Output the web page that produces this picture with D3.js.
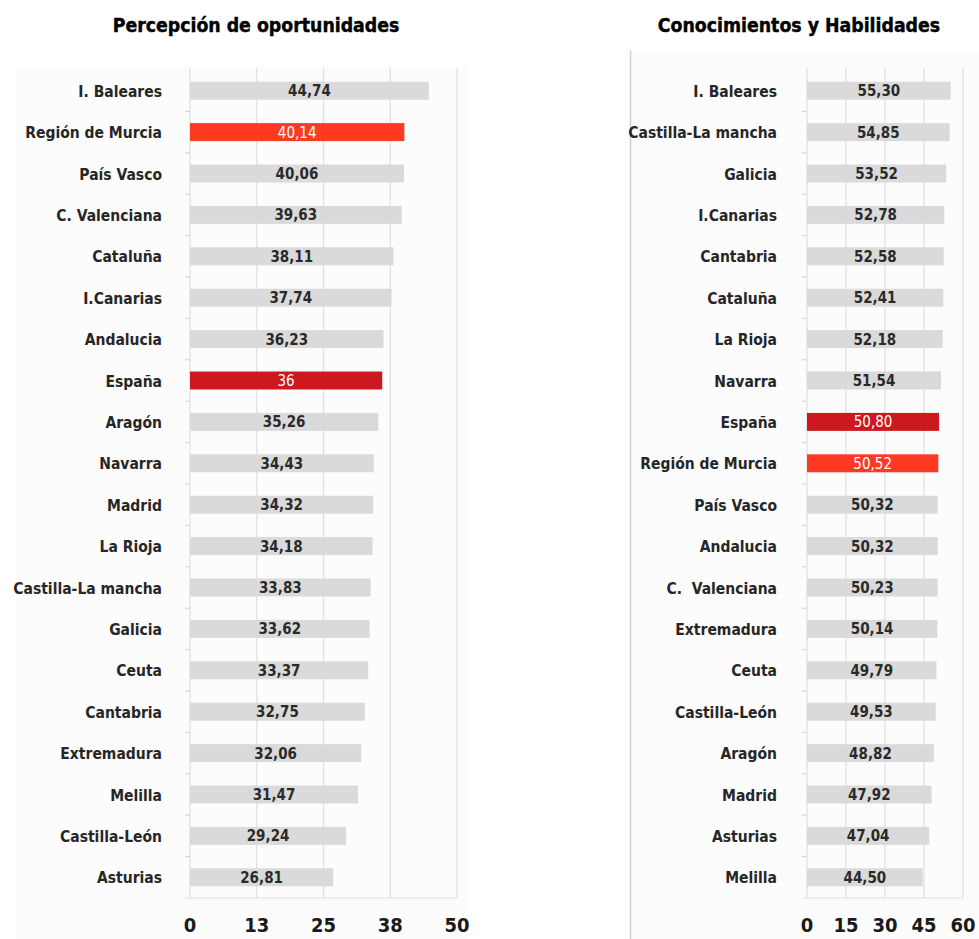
<!DOCTYPE html>
<html><head><meta charset="utf-8">
<script src="https://cdn.jsdelivr.net/npm/d3@7"></script>
<style>body{margin:0;background:#fff}svg{display:block}text{white-space:pre}</style>
</head><body>
<svg id="c" width="979" height="939"></svg>
<script>
const leftTitle = "Percepción de oportunidades";
const leftCategories = ["I. Baleares","Región de Murcia","País Vasco","C. Valenciana","Cataluña","I.Canarias","Andalucia","España","Aragón","Navarra","Madrid","La Rioja","Castilla-La mancha","Galicia","Ceuta","Cantabria","Extremadura","Melilla","Castilla-León","Asturias"];
const leftValues = [44.74,40.14,40.06,39.63,38.11,37.74,36.23,36,35.26,34.43,34.32,34.18,33.83,33.62,33.37,32.75,32.06,31.47,29.24,26.81];
const leftLabels = ["44,74","40,14","40,06","39,63","38,11","37,74","36,23","36","35,26","34,43","34,32","34,18","33,83","33,62","33,37","32,75","32,06","31,47","29,24","26,81"];
const leftTicks = [0,12.5,25,37.5,50];
const leftTickLabels = ["0","13","25","38","50"];

const rightTitle = "Conocimientos y Habilidades";
const rightCategories = ["I. Baleares","Castilla-La mancha","Galicia","I.Canarias","Cantabria","Cataluña","La Rioja","Navarra","España","Región de Murcia","País Vasco","Andalucia","C.  Valenciana","Extremadura","Ceuta","Castilla-León","Aragón","Madrid","Asturias","Melilla"];
const rightValues = [55.30,54.85,53.52,52.78,52.58,52.41,52.18,51.54,50.80,50.52,50.32,50.32,50.23,50.14,49.79,49.53,48.82,47.92,47.04,44.50];
const rightLabels = ["55,30","54,85","53,52","52,78","52,58","52,41","52,18","51,54","50,80","50,52","50,32","50,32","50,23","50,14","49,79","49,53","48,82","47,92","47,04","44,50"];
const rightTicks = [0,15,30,45,60];
const rightTickLabels = ["0","15","30","45","60"];

const colorMurcia = "#ff3a22", colorSpain = "#cc181e", colorBar = "#dadada";
const FONT = "'DejaVu Sans Condensed','DejaVu Sans',sans-serif";

const svg = d3.select("#c");

function panel(o) {
  const g = svg.append("g");
  g.append("rect").attr("x", o.bgX).attr("y", o.bgY).attr("width", o.bgW).attr("height", 939 - o.bgY)
    .attr("fill", "#fcfcfc");
  if (o.border) {
    g.append("line").attr("x1", o.bgX + 0.5).attr("x2", o.bgX + 0.5).attr("y1", o.bgY).attr("y2", 939)
      .attr("stroke", "#cfcfcf").attr("stroke-width", 1.5);
  }
  g.append("text").attr("x", o.titleX).attr("y", 32).attr("text-anchor", "middle")
    .attr("font-family", FONT).attr("font-weight", "bold").attr("font-size", 19.3).attr("fill", "#000")
    .attr("stroke", "#000").attr("stroke-width", 0.4)
    .text(o.title);

  const x = d3.scaleLinear().domain(o.domain).range([o.x0, o.x1]);
  const y = d3.scaleBand().domain(o.categories).range([70, 898]).paddingInner(0.56).paddingOuter(0.28);
  const step = y.step();

  g.append("g").selectAll("line").data(o.ticks).join("line")
    .attr("x1", d => x(d)).attr("x2", d => x(d)).attr("y1", 68).attr("y2", 898)
    .attr("stroke", "#dedede").attr("stroke-width", 1.2);
  g.append("line").attr("x1", o.x0 - 5).attr("x2", o.x1).attr("y1", 898).attr("y2", 898)
    .attr("stroke", "#dedede").attr("stroke-width", 1.2);
  const bounds = d3.range(1, o.categories.length).map(i => 70 + i * step);
  g.append("g").selectAll("line").data(bounds).join("line")
    .attr("x1", o.x0 - 5).attr("x2", o.x0).attr("y1", d => d).attr("y2", d => d)
    .attr("stroke", "#d6d6d6").attr("stroke-width", 1.2);

  const data = o.categories.map((c, i) => ({c, v: o.values[i], l: o.labels[i]}));
  const colorOf = c => c === "Región de Murcia" ? colorMurcia : (c === "España" ? colorSpain : colorBar);
  const bh = 18;
  g.append("g").selectAll("rect").data(data).join("rect")
    .attr("x", x(0)).attr("y", d => y(d.c) + y.bandwidth() / 2 - bh / 2)
    .attr("width", d => x(d.v) - x(0)).attr("height", bh)
    .attr("fill", d => colorOf(d.c));
  g.append("g").selectAll("text").data(data).join("text")
    .attr("x", d => (x(0) + x(d.v)) / 2).attr("y", d => y(d.c) + y.bandwidth() / 2 + 5.5)
    .attr("text-anchor", "middle").attr("font-family", FONT).attr("font-size", 15)
    .attr("font-weight", d => colorOf(d.c) === colorBar ? "bold" : "normal")
    .attr("fill", d => colorOf(d.c) === colorBar ? "#2a2a2a" : "#fff")
    .text(d => d.l);
  g.append("g").selectAll("text").data(data).join("text")
    .attr("x", o.labelX).attr("y", d => y(d.c) + y.bandwidth() / 2 + 6)
    .attr("text-anchor", "end").attr("font-family", FONT).attr("font-size", 15.5).attr("font-weight", "bold")
    .attr("fill", "#262626").text(d => d.c);
  g.append("g").selectAll("text").data(o.ticks).join("text")
    .attr("x", d => x(d)).attr("y", 932).attr("text-anchor", "middle")
    .attr("font-family", FONT).attr("font-size", 20).attr("font-weight", "bold").attr("fill", "#1a1a1a")
    .text((d, i) => o.tickLabels[i]);
}

panel({title: leftTitle, titleX: 256, categories: leftCategories, values: leftValues, labels: leftLabels,
  ticks: leftTicks, tickLabels: leftTickLabels, domain: [0, 50], x0: 190, x1: 457, labelX: 162,
  bgX: 16, bgY: 66, bgW: 451, border: false});
panel({title: rightTitle, titleX: 799, categories: rightCategories, values: rightValues, labels: rightLabels,
  ticks: rightTicks, tickLabels: rightTickLabels, domain: [0, 60], x0: 807, x1: 963, labelX: 777,
  bgX: 630, bgY: 50, bgW: 349, border: true});
</script>
</body></html>
